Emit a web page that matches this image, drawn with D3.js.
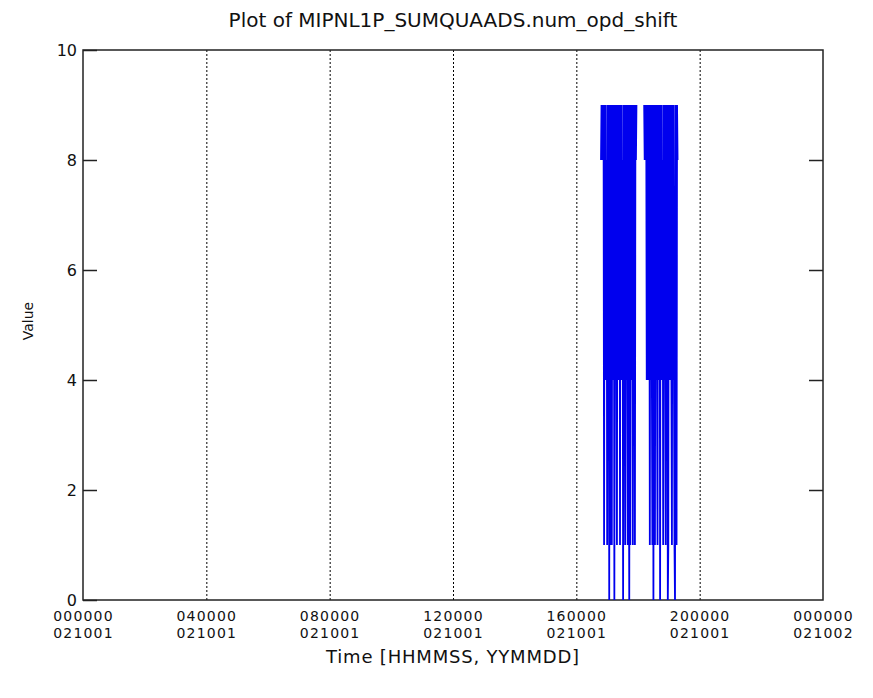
<!DOCTYPE html>
<html>
<head>
<meta charset="utf-8">
<script src="https://cdn.jsdelivr.net/npm/d3@7"></script>
<style>
  body { margin: 0; background: #fff; }
  svg text { font-family: "DejaVu Sans", sans-serif; fill: #111; }
</style>
</head>
<body>
<svg id="chart" width="873" height="698"></svg>
<script>
// tick labels on the time axis (seconds of day, HHMMSS, YYMMDD)
const tickSeconds = [0, 14400, 28800, 43200, 57600, 72000, 86400];
const tickTimes = ['000000', '040000', '080000', '120000', '160000', '200000', '000000'];
const tickDates = ['021001', '021001', '021001', '021001', '021001', '021001', '021002'];
const valueTicks = [0, 2, 4, 6, 8, 10];

// two bursts of records, sampled every 60 s
const sampleStep = 60;
const burst1Start = 60480;   // 16:48:00
const burst1Values = [8, 9, 8, 9, 8, 9, 1, 9, 4, 9, 4, 8, 1, 9, 4, 9, 0, 9, 1, 9,
                      4, 1, 9, 4, 9, 8, 0, 9, 4, 9, 4, 1, 9, 4, 9, 4, 9, 1, 9, 4,
                      9, 4, 8, 0, 9, 4, 9, 1, 9, 4, 9, 4, 1, 9, 4, 0, 9, 1, 9, 4,
                      9, 8, 1, 9, 8, 9, 1, 9, 8, 9];
const burst2Start = 65520;   // 18:12:00
const burst2Values = [9, 8, 9, 8, 9, 4, 9, 4, 9, 4, 9, 1, 9, 4, 9, 4, 1, 9, 0, 9,
                      4, 1, 9, 4, 9, 4, 1, 9, 4, 8, 9, 0, 9, 4, 9, 4, 8, 1, 9, 4,
                      9, 4, 1, 9, 4, 9, 0, 1, 9, 4, 9, 4, 9, 4, 1, 9, 4, 9, 4, 1,
                      0, 9, 4, 1, 9, 8];

const svg = d3.select('#chart');
const mLeft = 83, mRight = 823, mTop = 50, mBottom = 600;

const x = d3.scaleLinear().domain([0, 86400]).range([mLeft, mRight]);
const y = d3.scaleLinear().domain([0, 10]).range([mBottom, mTop]);

// title
svg.append('text')
    .attr('x', (mLeft + mRight) / 2)
    .attr('y', 27)
    .attr('text-anchor', 'middle')
    .style('font-size', '20px')
    .text('Plot of MIPNL1P_SUMQUAADS.num_opd_shift');

// dotted vertical grid lines
svg.append('g')
    .attr('transform', 'translate(0,' + mBottom + ')')
    .call(d3.axisBottom(x).tickValues(tickSeconds.slice(1, -1)).tickSize(-(mBottom - mTop)).tickFormat(''))
    .call(g => g.select('.domain').remove())
    .selectAll('line')
    .attr('stroke', '#000')
    .attr('stroke-dasharray', '2,2');

// x tick labels (two lines, separate texts)
const xLab = svg.append('g')
    .attr('transform', 'translate(0,' + mBottom + ')')
    .call(d3.axisBottom(x).tickValues(tickSeconds).tickSize(0).tickPadding(0).tickFormat(''));
xLab.select('.domain').remove();
xLab.selectAll('.tick').each(function (d, i) {
    const tk = d3.select(this);
    tk.append('text')
        .attr('text-anchor', 'middle')
        .attr('y', 21)
        .style('font-size', '14px')
        .style('letter-spacing', '1.2px')
        .text(tickTimes[i]);
    tk.append('text')
        .attr('text-anchor', 'middle')
        .attr('y', 38)
        .style('font-size', '14px')
        .style('letter-spacing', '1.2px')
        .text(tickDates[i]);
});

// y axis left and right, ticks pointing in
svg.append('g')
    .attr('transform', 'translate(' + mLeft + ',0)')
    .call(d3.axisLeft(y).tickValues(valueTicks).tickSizeInner(-14).tickSizeOuter(0).tickPadding(6).tickFormat(d3.format('d')))
    .call(g => g.select('.domain').remove())
    .call(g => g.selectAll('line').attr('stroke', '#222').attr('stroke-width', 1.5))
    .call(g => g.selectAll('text').style('font-size', '16px').attr('fill', '#111'));

svg.append('g')
    .attr('transform', 'translate(' + mRight + ',0)')
    .call(d3.axisRight(y).tickValues(valueTicks.slice(1, -1)).tickSizeInner(-14).tickSizeOuter(0).tickFormat(''))
    .call(g => g.select('.domain').remove())
    .call(g => g.selectAll('line').attr('stroke', '#222').attr('stroke-width', 1.5));

// frame
svg.append('rect')
    .attr('x', mLeft).attr('y', mTop)
    .attr('width', mRight - mLeft).attr('height', mBottom - mTop)
    .attr('fill', 'none')
    .attr('stroke', '#222')
    .attr('stroke-width', 1.5);

// axis titles
svg.append('text')
    .attr('x', (mLeft + mRight) / 2)
    .attr('y', 663)
    .attr('text-anchor', 'middle')
    .style('font-size', '18px')
    .style('letter-spacing', '0.8px')
    .text('Time [HHMMSS, YYMMDD]');

svg.append('text')
    .attr('transform', 'translate(33,321) rotate(-90)')
    .attr('text-anchor', 'middle')
    .style('font-size', '14px')
    .text('Value');

// data line, one path per burst
const line = d3.line()
    .x(d => x(d.t))
    .y(d => y(d.v));

[[burst1Start, burst1Values], [burst2Start, burst2Values]].forEach(function (b) {
    const pts = b[1].map((v, i) => ({ t: b[0] + i * sampleStep, v: v }));
    svg.append('path')
        .datum(pts)
        .attr('d', line)
        .attr('fill', 'none')
        .attr('stroke', '#0000ee')
        .attr('stroke-width', 1.8);
});
</script>
</body>
</html>
